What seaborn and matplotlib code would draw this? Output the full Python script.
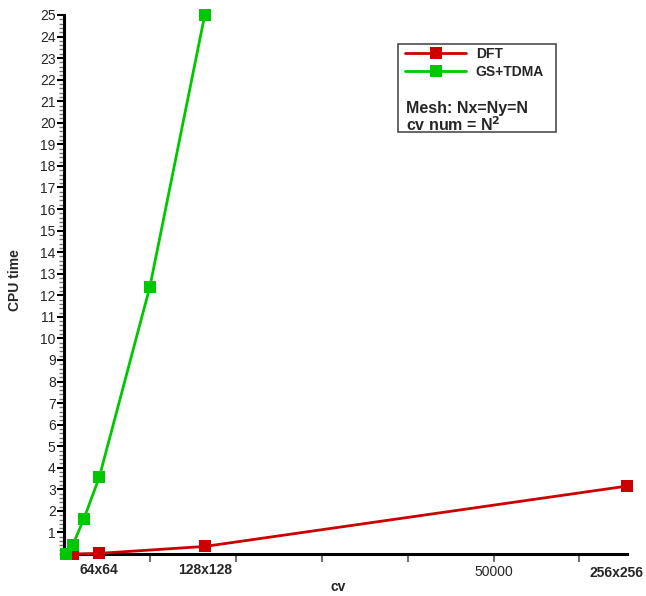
import pandas as pd
import numpy as np
import matplotlib as mpl
mpl.use('Agg')
import matplotlib.pyplot as plt
from matplotlib.patches import Rectangle
from matplotlib.ticker import MultipleLocator, FixedLocator
import seaborn as sns

# ============================================ #
# data
# ============================================ #
dft_cv = [1024, 4096, 16384, 65536]
dft_time = [0.0, 0.03, 0.35, 3.15]

gs_cv = [256, 1024, 2304, 4096, 10000, 16384]
gs_time = [0.02, 0.42, 1.62, 3.55, 12.4, 25.0]

mesh_labels = ['64x64', '128x128', '256x256']
mesh_cv = [4096, 16384, 65536]

df = pd.concat([
    pd.DataFrame({'cv': dft_cv, 'time': dft_time, 'method': 'DFT'}),
    pd.DataFrame({'cv': gs_cv, 'time': gs_time, 'method': 'GS+TDMA'}),
])

# ============================================ #
# style
# ============================================ #
sns.set_style('white')
plt.rcParams['font.family'] = ['Liberation Sans', 'DejaVu Sans']

W, H = 646, 596
fig = plt.figure(figsize=(W / 100, H / 100), dpi=100)
ax = fig.add_axes([64 / W, 1 - 554 / H, (627 - 64) / W, (554 - 15) / H])

sns.lineplot(data=df, x='cv', y='time', hue='method', style='method',
             markers=['s', 's'], dashes=False, markersize=9,
             markeredgewidth=0, linewidth=2,
             palette={'DFT': '#cc0000', 'GS+TDMA': '#00c800'},
             ax=ax, legend=False, clip_on=False, zorder=3)

ax.set_xlim(0, 65536)
ax.set_ylim(0, 25)

# axes look
for s in ['top', 'right']:
    ax.spines[s].set_visible(False)
for s in ['left', 'bottom']:
    ax.spines[s].set_linewidth(2.2)
    ax.spines[s].set_color('black')

ax.yaxis.set_major_locator(FixedLocator(np.arange(1, 26)))
ax.yaxis.set_minor_locator(MultipleLocator(0.2))
ax.tick_params(axis='y', which='major', length=5, width=1.5, color='black',
               labelsize=10, pad=1, direction='out', left=True)
ax.tick_params(axis='y', which='minor', length=3.5, width=1, color='0.45',
               direction='out', left=True)

ax.xaxis.set_major_locator(FixedLocator(np.arange(10000, 70000, 10000)))
ax.set_xticklabels(['', '', '', '', '50000', ''])
ax.tick_params(axis='x', which='major', length=6, width=1.5, color='0.45',
               labelsize=10, pad=2, direction='out', bottom=True)

ax.set_xlabel('cv', fontsize=10, fontweight='bold')
ax.set_ylabel('CPU time', fontsize=10, fontweight='bold')
ax.xaxis.set_label_coords((338 - 64) / (627 - 64), -(580 - 554) / (554 - 15))
ax.yaxis.set_label_coords(-(64 - 22) / (627 - 64), (554 - 280) / (554 - 15))

# mesh size labels under the axis
trans = ax.get_xaxis_transform()
for lab, xv, yoff in zip(mesh_labels[:2], mesh_cv[:2], [-0.030, -0.030]):
    ax.text(xv, yoff, lab, transform=trans, ha='center', va='center',
            fontsize=10, fontweight='bold')
ax.text(644 / W, 1 - 573 / H, mesh_labels[2], transform=fig.transFigure,
        ha='right', va='center', fontsize=10, fontweight='bold')

# ============================================ #
# legend box
# ============================================ #
box = Rectangle((398 / W, 1 - 132 / H), (556 - 398) / W, (132 - 44) / H,
                transform=fig.transFigure, fill=False, edgecolor='0.3',
                linewidth=1.2)
fig.add_artist(box)

handles = [
    plt.Line2D([], [], color='#cc0000', lw=2, marker='s', markersize=9, markeredgewidth=0),
    plt.Line2D([], [], color='#00c800', lw=2, marker='s', markersize=9, markeredgewidth=0),
]
leg = fig.legend(handles, ['DFT', 'GS+TDMA'], loc='upper left',
                 bbox_to_anchor=(405 / W, 1 - 47 / H), frameon=False,
                 handlelength=4.4, handletextpad=0.7, labelspacing=0.3,
                 borderpad=0, borderaxespad=0,
                 prop={'weight': 'bold', 'size': 10})

fig.text(406 / W, 1 - 109 / H, 'Mesh: Nx=Ny=N', fontsize=11.5, fontweight='bold',
         ha='left', va='center')
fig.text(406 / W, 1 - 125 / H, r'cv num = N$^\mathbf{2}$', fontsize=11.5,
         fontweight='bold', ha='left', va='center')

fig.savefig('out.png', dpi=100)
